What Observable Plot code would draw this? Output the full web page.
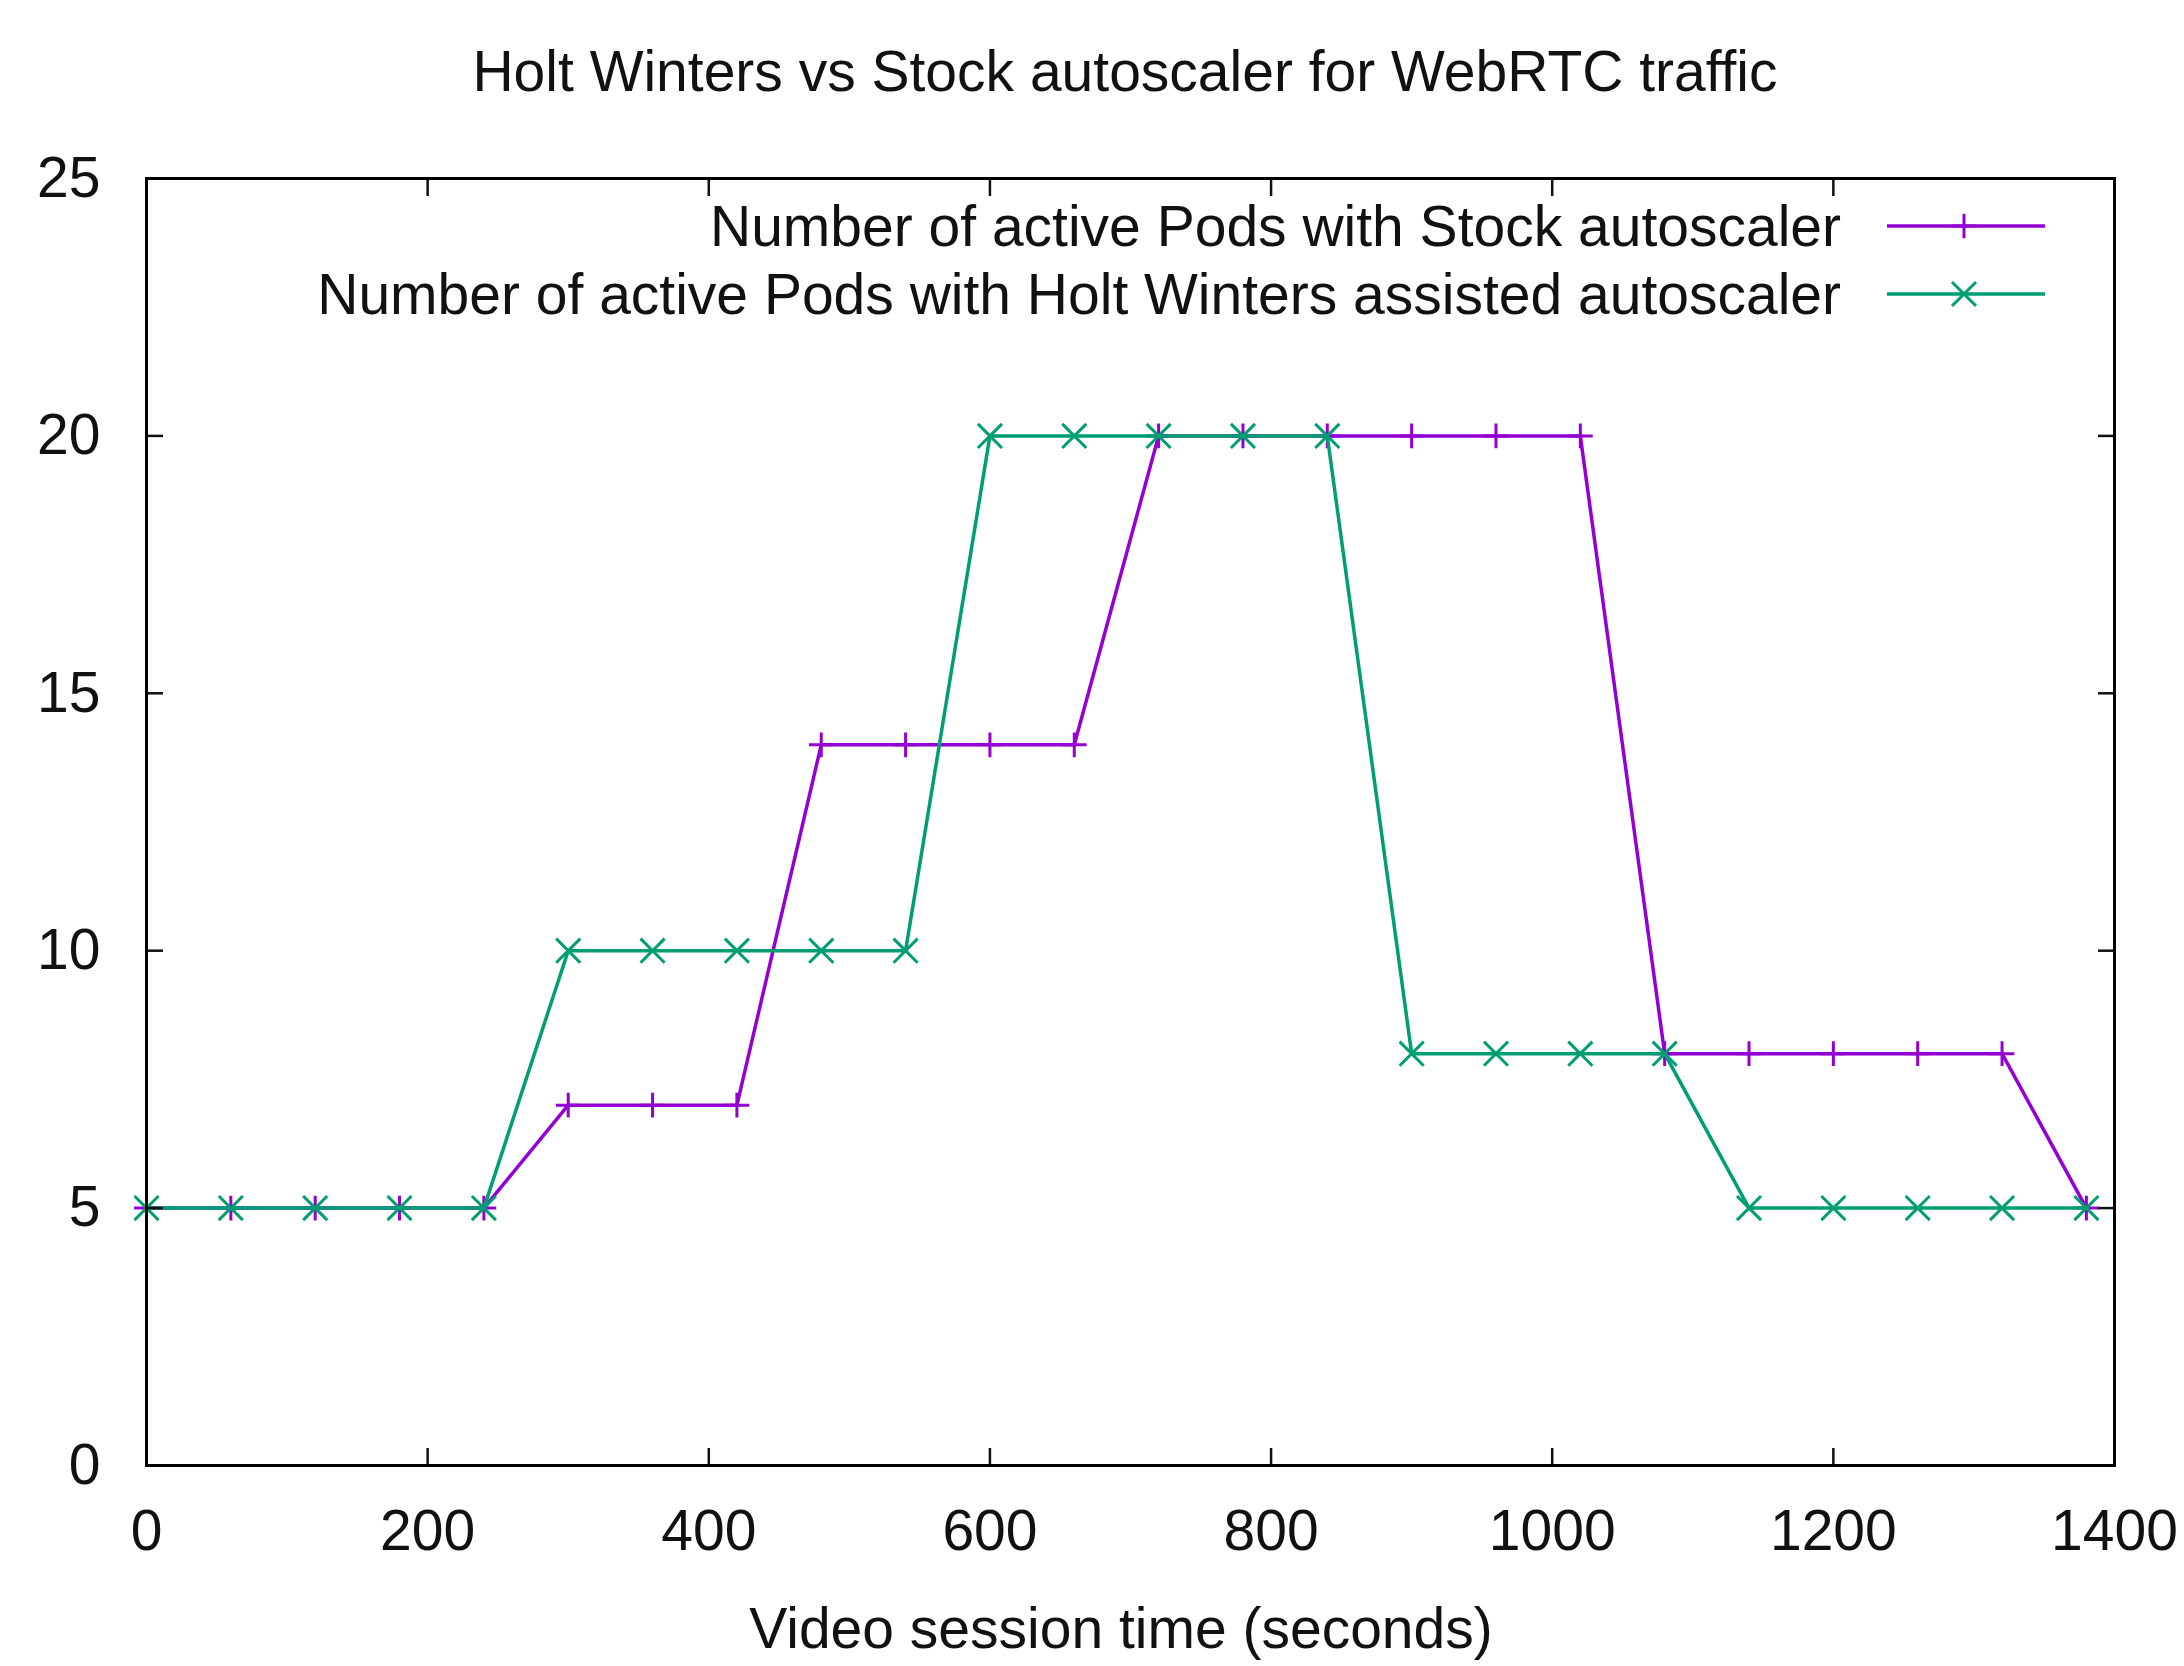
<!DOCTYPE html>
<html>
<head>
<meta charset="utf-8">
<script src="https://cdn.jsdelivr.net/npm/d3@7"></script>
<script src="https://cdn.jsdelivr.net/npm/@observablehq/plot@0.6"></script>
<style>
  body { margin: 0; background: #fff; font-family: "Liberation Sans", Arial, sans-serif; color: #111; }
  #wrap { position: relative; width: 2184px; height: 1666px; overflow: hidden; }
  #title { margin-left: 141px; width: 1968px; height: 140px; line-height: 142px; text-align: center; font-size: 57px; }
  #chart { height: 1450px; }
  #xlabel { margin-left: 137px; width: 1968px; height: 76px; line-height: 76px; text-align: center; font-size: 57px; }
  #legend { position: absolute; top: 192px; right: 139px; font-size: 57px; }
  .row { display: flex; align-items: center; justify-content: flex-end; height: 68px; }
  .row span { white-space: nowrap; }
  .row svg { margin-left: 46px; display: block; }
</style>
</head>
<body>
<div id="wrap">
  <div id="title"></div>
  <div id="chart"></div>
  <div id="xlabel"></div>
  <div id="legend"></div>
</div>
<script>
const titleText = "Holt Winters vs Stock autoscaler for WebRTC traffic";
const xLabelText = "Video session time (seconds)";
const seriesNames = [
  "Number of active Pods with Stock autoscaler",
  "Number of active Pods with Holt Winters assisted autoscaler"
];
const seriesColors = ["#9400d3", "#009e73"];
const times = [0, 60, 120, 180, 240, 300, 360, 420, 480, 540, 600, 660, 720, 780, 840, 900, 960, 1020, 1080, 1140, 1200, 1260, 1320, 1380];
const stockPods = [5, 5, 5, 5, 5, 7, 7, 7, 14, 14, 14, 14, 20, 20, 20, 20, 20, 20, 8, 8, 8, 8, 8, 5];
const holtWintersPods = [5, 5, 5, 5, 5, 10, 10, 10, 10, 10, 20, 20, 20, 20, 20, 8, 8, 8, 8, 5, 5, 5, 5, 5];
const xTicks = [0, 200, 400, 600, 800, 1000, 1200, 1400];
const yTicks = [0, 5, 10, 15, 20, 25];

document.getElementById("title").textContent = titleText;
document.getElementById("xlabel").textContent = xLabelText;

const stockData = times.map((t, i) => ({t, v: stockPods[i]}));
const hwData = times.map((t, i) => ({t, v: holtWintersPods[i]}));
const fmt = d => String(d);

const plot = Plot.plot({
  width: 2184,
  height: 1450,
  marginTop: 38,
  marginBottom: 125,
  marginLeft: 146,
  marginRight: 70,
  style: {fontFamily: "Liberation Sans, Arial, sans-serif", fontSize: "57px", color: "#111", background: "white"},
  x: {domain: [0, 1400]},
  y: {domain: [0, 25]},
  marks: [
    Plot.line(stockData, {x: "t", y: "v", stroke: seriesColors[0], strokeWidth: 3.5}),
    Plot.dot(stockData, {x: "t", y: "v", symbol: "plus", r: 8, stroke: seriesColors[0], strokeWidth: 3}),
    Plot.line(hwData, {x: "t", y: "v", stroke: seriesColors[1], strokeWidth: 3.5}),
    Plot.dot(hwData, {x: "t", y: "v", symbol: "times", r: 11, stroke: seriesColors[1], strokeWidth: 3}),
    Plot.axisX(xTicks, {anchor: "bottom", tickSize: 0, tickPadding: 44, label: null, tickFormat: fmt}),
    Plot.axisX(xTicks, {anchor: "bottom", tickSize: -17, fill: "none", label: null, strokeWidth: 2.5}),
    Plot.axisX(xTicks, {anchor: "top", tickSize: -17, fill: "none", label: null, strokeWidth: 2.5}),
    Plot.axisY(yTicks, {anchor: "left", tickSize: 0, tickPadding: 46, label: null, tickFormat: fmt}),
    Plot.axisY(yTicks, {anchor: "left", tickSize: -17, fill: "none", label: null, strokeWidth: 2.5}),
    Plot.axisY(yTicks, {anchor: "right", tickSize: -17, fill: "none", label: null, strokeWidth: 2.5}),
    Plot.frame({stroke: "black", strokeWidth: 3})
  ]
});
document.getElementById("chart").appendChild(plot);

// Legend (inside the frame, top right)
const legend = document.getElementById("legend");
const markerSymbols = [d3.symbolPlus, d3.symbolTimes];
const markerSizes = [Math.PI * 64, Math.PI * 121];
seriesNames.forEach((name, i) => {
  const row = document.createElement("div");
  row.className = "row";
  const span = document.createElement("span");
  span.textContent = name;
  row.appendChild(span);
  const ns = "http://www.w3.org/2000/svg";
  const svg = document.createElementNS(ns, "svg");
  svg.setAttribute("width", 158);
  svg.setAttribute("height", 30);
  const line = document.createElementNS(ns, "line");
  line.setAttribute("x1", 0); line.setAttribute("x2", 158);
  line.setAttribute("y1", 15); line.setAttribute("y2", 15);
  line.setAttribute("stroke", seriesColors[i]); line.setAttribute("stroke-width", 3.5);
  svg.appendChild(line);
  const p = document.createElementNS(ns, "path");
  p.setAttribute("d", d3.symbol(markerSymbols[i], markerSizes[i])());
  p.setAttribute("transform", "translate(77,15)");
  p.setAttribute("fill", "none");
  p.setAttribute("stroke", seriesColors[i]);
  p.setAttribute("stroke-width", 3);
  svg.appendChild(p);
  row.appendChild(svg);
  legend.appendChild(row);
});
</script>
</body>
</html>
